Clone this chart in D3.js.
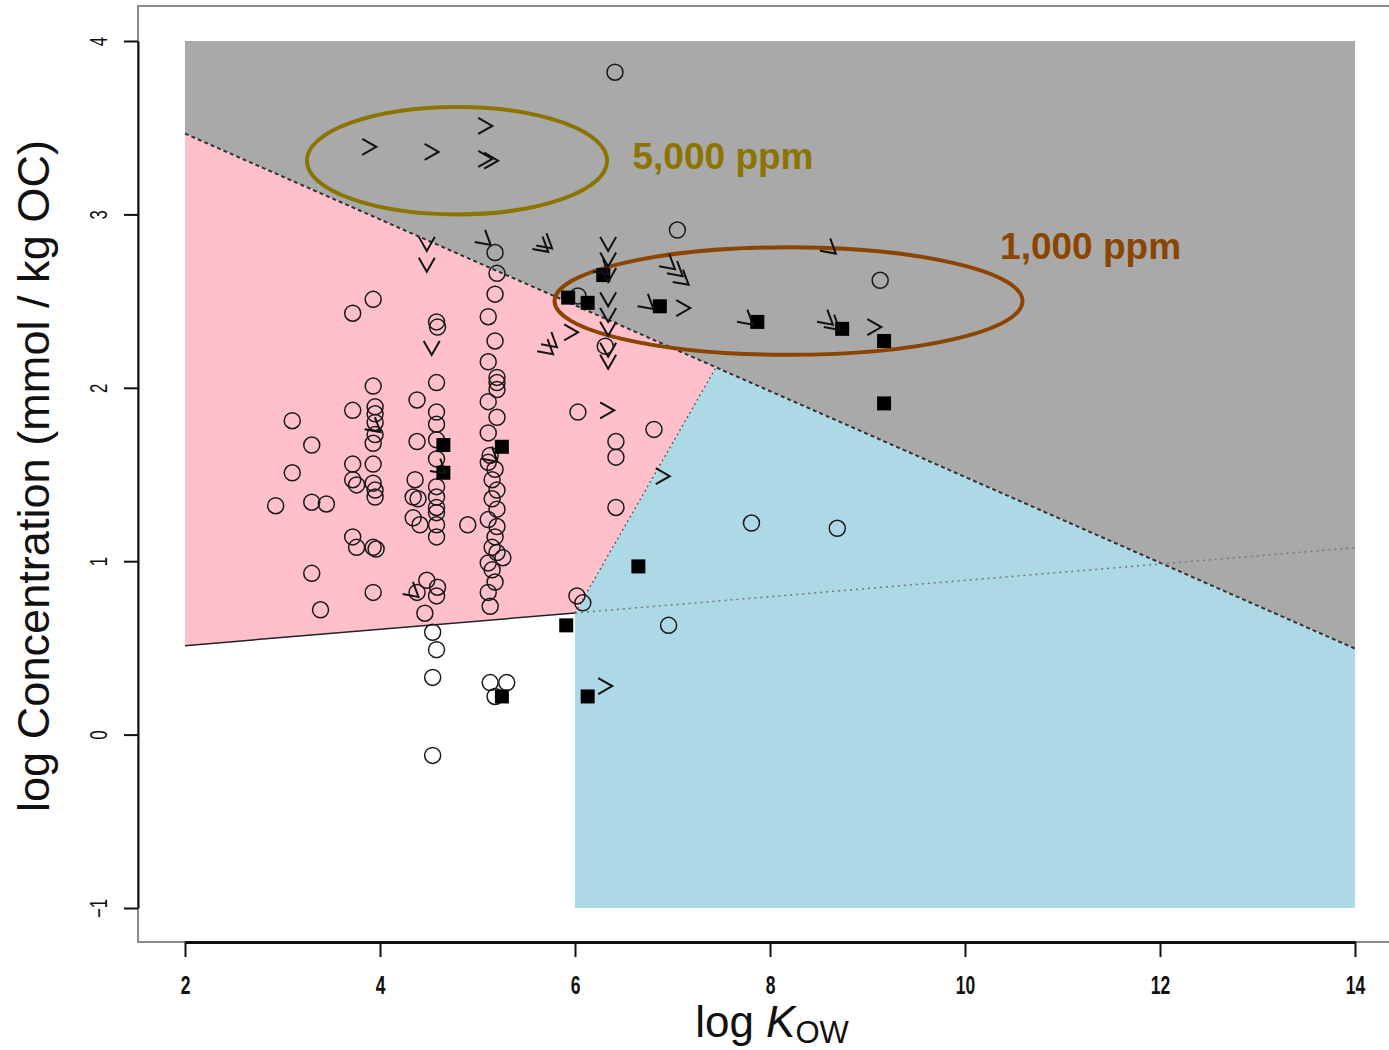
<!DOCTYPE html>
<html lang="en">
<head>
<meta charset="UTF-8">
<title>log Kow vs log concentration</title>
<style>
  body { margin: 0; background: #fff; }
  svg { display: block; }
  text { font-family: "Liberation Sans", Arial, sans-serif; }
</style>
</head>
<body>
<svg id="chart" width="1389" height="1050"></svg>
<script src="https://d3js.org/d3.v7.min.js"></script>
<script>

// tick values
let xTicks = [2, 4, 6, 8, 10, 12, 14];
let yTicks = [-1, 0, 1, 2, 3, 4];

// region boundaries (log Kow, log conc)
let upperLine = [[2, 3.466], [14, 0.496]];
let lowerLine = [[2, 0.513], [14, 1.078]];
let sideLine = [[6, 0.701], [7.446, 2.118]];
let grayRegion = [[2, 4], [14, 4], [14, 0.496], [2, 3.466]];
let pinkRegion = [[2, 0.513], [2, 3.466], [7.446, 2.118], [6, 0.701]];
let blueRegion = [[6, -1], [6, 0.701], [7.446, 2.118], [14, 0.496], [14, -1]];

// open circles
let circlePts = [
  [6.41, 3.82], [7.05, 2.91], [9.13, 2.62], [7.81, 1.22], [8.69, 1.19], [6.96, 0.63],
  [6.81, 1.76], [6.42, 1.69], [6.42, 1.60], [6.42, 1.31], [6.03, 1.86], [6.02, 0.80],
  [6.08, 0.76], [6.31, 2.24], [6.03, 2.53],
  [5.18, 2.78], [5.20, 2.66], [5.18, 2.54], [5.11, 2.41], [5.18, 2.27], [5.11, 2.15],
  [5.20, 2.06], [5.20, 2.03], [5.20, 1.99], [5.11, 1.92], [5.20, 1.83], [5.11, 1.74],
  [5.13, 1.61], [5.11, 1.57], [5.18, 1.53], [5.15, 1.47], [5.20, 1.41], [5.15, 1.36],
  [5.20, 1.30], [5.11, 1.24], [5.20, 1.20], [4.90, 1.21], [5.18, 1.14], [5.15, 1.08],
  [5.20, 1.05], [5.26, 1.02], [5.11, 0.99], [5.15, 0.95], [5.18, 0.88], [5.11, 0.82],
  [5.13, 0.74], [5.13, 0.30], [5.30, 0.30], [5.18, 0.22],
  [4.58, 2.38], [4.59, 2.35], [4.58, 2.03], [4.58, 1.86], [4.58, 1.79], [4.58, 1.70],
  [4.58, 1.59], [4.58, 1.43], [4.58, 1.37], [4.58, 1.31], [4.58, 1.28], [4.58, 1.21],
  [4.58, 1.14], [4.38, 1.93], [4.38, 1.69], [4.36, 1.47], [4.34, 1.37], [4.39, 1.36],
  [4.34, 1.25], [4.41, 1.21],
  [4.48, 0.89], [4.59, 0.85], [4.58, 0.80], [4.38, 0.82], [4.46, 0.70], [4.54, 0.59],
  [4.58, 0.49], [4.54, 0.33], [4.54, -0.12],
  [3.93, 2.51], [3.72, 2.43], [3.93, 2.01], [3.72, 1.87], [3.95, 1.89], [3.95, 1.85],
  [3.95, 1.80], [3.95, 1.73], [3.93, 1.68], [3.93, 1.56], [3.72, 1.56], [3.72, 1.47],
  [3.76, 1.44], [3.93, 1.45], [3.95, 1.41], [3.95, 1.37], [3.72, 1.14], [3.76, 1.08],
  [3.93, 1.08], [3.96, 1.07], [3.93, 0.82],
  [3.10, 1.81], [3.30, 1.67], [3.10, 1.51], [2.93, 1.32], [3.30, 1.34], [3.45, 1.33],
  [3.30, 0.93], [3.39, 0.72]
];

// filled squares
let squarePts = [
  [4.65, 1.67], [4.65, 1.51], [5.25, 1.66], [5.25, 0.22], [5.91, 0.63], [6.13, 0.22],
  [6.65, 0.97], [9.17, 1.91], [9.17, 2.27], [8.74, 2.34], [7.87, 2.38], [6.87, 2.47],
  [6.29, 2.65], [6.13, 2.49], [5.93, 2.52]
];

// ">" markers, upright
let gtFlat = [
  [3.89, 3.39], [4.53, 3.36], [5.08, 3.51], [5.08, 3.32], [5.14, 3.31], [7.11, 2.46],
  [9.07, 2.35], [6.33, 1.87], [6.90, 1.49], [6.31, 0.28], [5.96, 2.32]
];
// ">" markers, tilted
let gtTilt = [
  [5.08, 2.85], [5.71, 2.83], [5.67, 2.81], [8.62, 2.80], [6.97, 2.71], [7.05, 2.67],
  [7.11, 2.62], [6.75, 2.48], [7.77, 2.39], [8.59, 2.39], [8.66, 2.36], [5.72, 2.22],
  [5.76, 2.26], [6.29, 2.68], [3.95, 1.77], [4.62, 1.53], [5.15, 1.60], [4.34, 0.82]
];
// ">" markers, pointing down
let gtDown = [
  [4.48, 2.83], [4.48, 2.71], [4.53, 2.23], [6.34, 2.83], [6.34, 2.74], [6.34, 2.65],
  [6.34, 2.51], [6.34, 2.42], [6.34, 2.34], [6.34, 2.22], [6.34, 2.15]
];

// annotation ellipses: centre x, centre y, half width, half height (data units)
let ellipses = [
  {label: "5,000 ppm", cx: 4.79, cy: 3.31, rx: 1.54, ry: 0.31, lx: 6.59, ly: 3.26, color: "#8B7500"},
  {label: "1,000 ppm", cx: 8.19, cy: 2.50, rx: 2.40, ry: 0.31, lx: 10.36, ly: 2.74, color: "#8B4500"}
];

let svg = d3.select("#chart");

let x = d3.scaleLinear().domain([2, 14]).range([185, 1355]);
let y = d3.scaleLinear().domain([-1, 4]).range([908, 41]);

let poly = d => d.map(p => x(p[0]) + "," + y(p[1])).join(" ");

svg.append("polygon").attr("points", poly(grayRegion)).attr("fill", "#A9A9A9");
svg.append("polygon").attr("points", poly(pinkRegion)).attr("fill", "#FFC0CB");
svg.append("polygon").attr("points", poly(blueRegion)).attr("fill", "#ADD8E6");

// frame (box open to the right)
svg.append("path")
  .attr("d", "M1400,6 H138 V942 H1400")
  .attr("fill", "none")
  .attr("stroke", "#8a8a8a")
  .attr("stroke-width", 2);

let line = d3.line().x(d => x(d[0])).y(d => y(d[1]));

svg.append("path").datum(upperLine).attr("d", line)
  .attr("fill", "none").attr("stroke", "#333").attr("stroke-width", 2)
  .attr("stroke-dasharray", "4,3");

// lower boundary: solid under pink, dotted beyond
let split = lowerLine[0][1] + (lowerLine[1][1] - lowerLine[0][1]) * (6 - 2) / 12;
svg.append("path").datum([lowerLine[0], [6, split]]).attr("d", line)
  .attr("fill", "none").attr("stroke", "#222").attr("stroke-width", 1.5);
svg.append("path").datum([[6, split], lowerLine[1]]).attr("d", line)
  .attr("fill", "none").attr("stroke", "#777").attr("stroke-width", 1.5)
  .attr("stroke-dasharray", "2,4");

svg.append("path").datum(sideLine).attr("d", line)
  .attr("fill", "none").attr("stroke", "#555").attr("stroke-width", 1.3)
  .attr("stroke-dasharray", "2,3");

// ellipses and labels
svg.selectAll("ellipse")
  .data(ellipses)
  .enter()
  .append("ellipse")
  .attr("cx", d => x(d.cx))
  .attr("cy", d => y(d.cy))
  .attr("rx", d => x(d.cx + d.rx) - x(d.cx))
  .attr("ry", d => y(d.cy) - y(d.cy + d.ry))
  .attr("fill", "none")
  .attr("stroke", d => d.color)
  .attr("stroke-width", 4);

// markers
svg.append("g").selectAll("circle")
  .data(circlePts)
  .enter()
  .append("circle")
  .attr("cx", d => x(d[0]))
  .attr("cy", d => y(d[1]))
  .attr("r", 8)
  .attr("fill", "none")
  .attr("stroke", "#1a1a1a")
  .attr("stroke-width", 1.5);

svg.append("g").selectAll("rect")
  .data(squarePts)
  .enter()
  .append("rect")
  .attr("x", d => x(d[0]) - 7)
  .attr("y", d => y(d[1]) - 7)
  .attr("width", 14)
  .attr("height", 14)
  .attr("fill", "#000");

let gtPath = "M-7,-8 L7,0 L-7,8";
function drawGt(data, angle) {
  svg.append("g").selectAll("path")
    .data(data)
    .enter()
    .append("path")
    .attr("d", gtPath)
    .attr("transform", d => "translate(" + x(d[0]) + "," + y(d[1]) + ") rotate(" + angle + ")")
    .attr("fill", "none")
    .attr("stroke", "#111")
    .attr("stroke-width", 2);
}
drawGt(gtFlat, 0);
drawGt(gtTilt, 40);
drawGt(gtDown, 90);

svg.selectAll("text.note")
  .data(ellipses)
  .enter()
  .append("text")
  .attr("class", "note")
  .attr("x", d => x(d.lx))
  .attr("y", d => y(d.ly))
  .attr("fill", d => d.color)
  .attr("font-size", 37)
  .attr("font-weight", "bold")
  .text(d => d.label);

// axes
let yAxis = svg.append("g")
  .attr("transform", "translate(138,0)")
  .call(d3.axisLeft(y).tickValues(yTicks).tickSize(14).tickSizeOuter(0).tickFormat(d3.format("d")));
yAxis.select(".domain").attr("stroke", "#111").attr("stroke-width", 2);
yAxis.selectAll(".tick line").attr("stroke", "#111").attr("stroke-width", 2);
yAxis.selectAll(".tick text")
  .attr("x", null).attr("dy", null)
  .attr("text-anchor", "middle")
  .attr("transform", "translate(-31,0) rotate(-90) scale(0.7,1)")
  .attr("font-size", 24)
  .attr("fill", "#111");

let xAxis = svg.append("g")
  .attr("transform", "translate(0,942)")
  .call(d3.axisBottom(x).tickValues(xTicks).tickSize(15).tickSizeOuter(0).tickFormat(d3.format("d")));
xAxis.select(".domain").attr("stroke", "#111").attr("stroke-width", 3);
xAxis.selectAll(".tick line").attr("stroke", "#111").attr("stroke-width", 2);
xAxis.selectAll(".tick text")
  .attr("y", null).attr("dy", null)
  .attr("transform", "translate(0,52) scale(0.7,1)")
  .attr("font-size", 25)
  .attr("font-weight", "bold")
  .attr("fill", "#111");

// axis titles
let xt = svg.append("text")
  .attr("x", 772)
  .attr("y", 1037)
  .attr("text-anchor", "middle")
  .attr("font-size", 44)
  .attr("fill", "#111");
xt.append("tspan").text("log ");
xt.append("tspan").attr("font-style", "italic").text("K");
xt.append("tspan").attr("font-size", 31).attr("dy", 6).text("OW");

svg.append("text")
  .attr("transform", "translate(49,476) rotate(-90)")
  .attr("text-anchor", "middle")
  .attr("font-size", 44)
  .attr("textLength", 672)
  .attr("lengthAdjust", "spacingAndGlyphs")
  .attr("fill", "#111")
  .text("log Concentration (mmol / kg OC)");

</script>
</body>
</html>
